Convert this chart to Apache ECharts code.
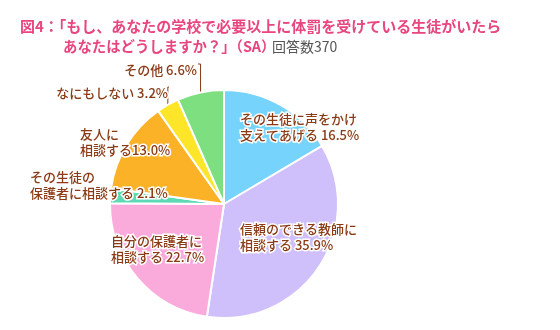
<!DOCTYPE html>
<html>
<head>
<meta charset="utf-8">
<script src="https://cdn.jsdelivr.net/npm/echarts@6/dist/echarts.min.js"></script>
<style>
  html, body { margin: 0; padding: 0; background: #fff; }
  #chart { width: 560px; height: 330px; }
</style>
</head>
<body>
<div id="chart"></div>
<script>
// Answer categories (clockwise from 12 o'clock) and their shares in percent
const categories = [
  'その生徒に声をかけ\n支えてあげる',
  '信頼のできる教師に\n相談する',
  '自分の保護者に\n相談する',
  'その生徒の\n保護者に相談する',
  '友人に\n相談する',
  'なにもしない',
  'その他'
];
const shares = [16.5, 35.9, 22.7, 2.1, 13.0, 3.2, 6.6];
const sliceColors = ['#76d3fb', '#cfbffa', '#fbaadc', '#5ddab5', '#fbb226', '#fde62a', '#7ddf7f'];

// Where each label's text block sits: [x, y(center), align]
const labelSpots = [
  [240, 127, 'left'],
  [240, 237, 'left'],
  [111, 249, 'left'],
  [30, 185, 'left'],
  [80, 142, 'left'],
  [168, 93, 'right'],
  [197, 70, 'right']
];
// Labels that are tied to their slice with a leader line
const leaderLabels = [5, 6];

const titleLine1 = '図4：「もし、あなたの学校で必要以上に体罰を受けている生徒がいたら';
const titleLine2 = 'あなたはどうしますか？」（SA）';
const sampleNote = '回答数370';

const chart = echarts.init(document.getElementById('chart'));

const fontJP = '"Noto Sans CJK JP", "Noto Sans", sans-serif';

chart.setOption({
  animation: false,
  title: [
    {
      text: titleLine1,
      left: 15, top: 14,
      textStyle: { fontFamily: fontJP, fontSize: 15, fontWeight: 'bold', color: '#e8467f' }
    },
    {
      text: titleLine2,
      left: 58, top: 34,
      textStyle: { fontFamily: fontJP, fontSize: 14.4, fontWeight: 'bold', color: '#e8467f' }
    },
    {
      text: sampleNote,
      left: 267, top: 35,
      textStyle: { fontFamily: fontJP, fontSize: 14, fontWeight: 'normal', color: '#555555' }
    }
  ],
  series: [{
    type: 'pie',
    center: [224, 204],
    radius: [0, 114],
    startAngle: 90,
    clockwise: true,
    avoidLabelOverlap: false,
    itemStyle: { borderColor: '#ffffff', borderWidth: 2 },
    label: {
      show: true,
      position: 'outside',
      fontFamily: fontJP,
      fontSize: 13,
      fontWeight: 500,
      lineHeight: 16,
      color: '#8a3a14',
      textBorderColor: '#ffffff',
      textBorderWidth: 3,
      formatter: p => {
        const sep = (p.dataIndex === 4) ? '' : ' ';
        return p.name + sep + shares[p.dataIndex].toFixed(1) + '%';
      }
    },
    labelLine: { show: false },
    labelLayout: params => {
      const i = params.dataIndex;
      const [x, y, align] = labelSpots[i];
      const out = { x: x, y: y, align: align, verticalAlign: 'middle', hideOverlap: false };
      if (leaderLabels.includes(i) && params.labelLinePoints) {
        const p0 = params.labelLinePoints[0];
        out.labelLinePoints = [[p0[0], p0[1]], [p0[0], y - 6], [x + 1, y - 6]];
      }
      return out;
    },
    data: categories.map((name, i) => ({
      name: name,
      value: shares[i],
      itemStyle: { color: sliceColors[i] },
      labelLine: leaderLabels.includes(i)
        ? { show: true, lineStyle: { color: '#8a3a14', width: 1 } }
        : { show: false }
    }))
  }]
});
</script>
</body>
</html>
